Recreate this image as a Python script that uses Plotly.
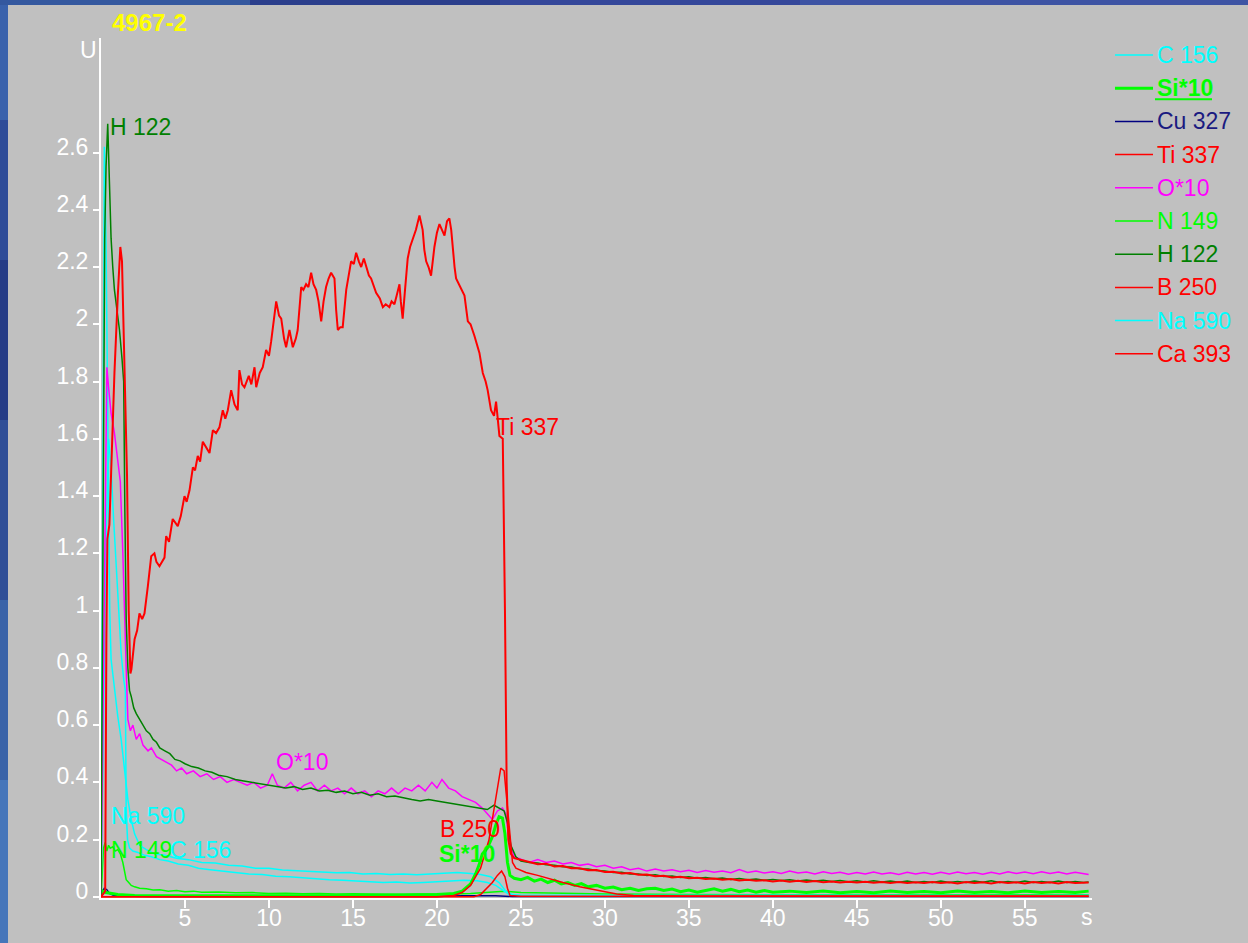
import plotly.graph_objects as go

# ------------------------------------------------------------------ data
TITLE = "4967-2"
Y_UNIT = "U"
X_UNIT = "s"
X_TICKS = [5, 10, 15, 20, 25, 30, 35, 40, 45, 50, 55]
Y_TICKS = [0, 0.2, 0.4, 0.6, 0.8, 1.0, 1.2, 1.4, 1.6, 1.8, 2.0, 2.2, 2.4, 2.6]
Y_TICK_TEXT = ["0", "0.2", "0.4", "0.6", "0.8", "1", "1.2", "1.4", "1.6", "1.8",
               "2", "2.2", "2.4", "2.6"]
LEGEND_ORDER = ["C 156", "Si*10", "Cu 327", "Ti 337", "O*10", "N 149",
                "H 122", "B 250", "Na 590", "Ca 393"]

C_156 = [(0, 0), (0.15, 0.6), (0.3, 1.25), (0.45, 1.6), (0.6, 1.5), (0.75, 1.32),
         (0.9, 1.15), (1.05, 1.0), (1.2, 0.85), (1.35, 0.76), (1.45, 0.72), (1.5, 0.3),
         (1.58, 0.2), (1.7, 0.17), (1.9, 0.16), (2.2, 0.155), (2.6, 0.145), (3.0, 0.14),
         (3.5, 0.13), (4.0, 0.125), (4.6, 0.115), (5.2, 0.11), (5.8, 0.1), (6.5, 0.095),
         (7.2, 0.09), (8.0, 0.085), (8.8, 0.08), (9.6, 0.078), (10.4, 0.072), (11.2, 0.07),
         (12.0, 0.066), (12.8, 0.064), (13.6, 0.06), (14.4, 0.058), (15.2, 0.055),
         (16.0, 0.054), (16.8, 0.05), (17.6, 0.052), (18.4, 0.048), (19.2, 0.05),
         (20.0, 0.052), (20.8, 0.055), (21.6, 0.058), (22.4, 0.056), (23.0, 0.05),
         (23.5, 0.04), (23.9, 0.025), (24.3, 0.008), (24.8, 0.005), (26, 0.005),
         (30, 0.004), (35, 0.005), (40, 0.004), (45, 0.005), (50, 0.004), (55, 0.005),
         (58.8, 0.004)]

NA_590 = [(0, 0), (0.1, 1.25), (0.2, 2.62), (0.3, 2.28), (0.38, 1.8), (0.45, 1.3),
          (0.52, 1.0), (0.6, 0.83), (0.8, 0.72), (1.0, 0.63), (1.2, 0.55), (1.4, 0.45),
          (1.6, 0.34), (1.8, 0.27), (2.0, 0.22), (2.3, 0.18), (2.7, 0.165), (3.2, 0.15),
          (3.8, 0.145), (4.5, 0.135), (5.2, 0.13), (6.0, 0.12), (6.8, 0.118), (7.6, 0.11),
          (8.4, 0.108), (9.2, 0.1), (10.0, 0.1), (10.8, 0.094), (11.6, 0.092),
          (12.4, 0.088), (13.2, 0.088), (14.0, 0.084), (14.8, 0.085), (15.6, 0.08),
          (16.4, 0.082), (17.2, 0.078), (18.0, 0.08), (18.8, 0.077), (19.6, 0.08),
          (20.4, 0.082), (21.2, 0.085), (22.0, 0.082), (22.6, 0.078), (23.2, 0.07),
          (23.7, 0.05), (24.1, 0.02), (24.5, 0.008), (25, 0.006), (28, 0.005),
          (32, 0.006), (36, 0.005), (40, 0.006), (45, 0.005), (50, 0.006), (55, 0.005),
          (58.8, 0.006)]

SI_10 = [(0, 0), (0.1, 0.02), (0.3, 0.015), (1.0, 0.008), (2, 0.005), (5, 0.004),
         (10, 0.004), (15, 0.004), (19, 0.006), (20, 0.008), (20.5, 0.01), (21, 0.012),
         (21.5, 0.02), (22, 0.045), (22.3, 0.08), (22.5, 0.11), (22.7, 0.15), (23.0, 0.17),
         (23.3, 0.21), (23.5, 0.25), (23.7, 0.28), (23.9, 0.275), (24.05, 0.22),
         (24.2, 0.12), (24.35, 0.075), (24.6, 0.065), (25, 0.06), (25.4, 0.068),
         (25.8, 0.055), (26.2, 0.062), (26.6, 0.05), (27, 0.058), (27.4, 0.045),
         (27.8, 0.05), (28.2, 0.04), (28.6, 0.046), (29, 0.035), (29.5, 0.04), (30, 0.03),
         (30.5, 0.034), (31, 0.025), (31.5, 0.03), (32, 0.022), (32.5, 0.028), (33, 0.03),
         (33.5, 0.022), (34, 0.027), (34.5, 0.018), (35, 0.024), (35.5, 0.016),
         (36, 0.022), (36.5, 0.028), (37, 0.02), (37.5, 0.026), (38, 0.018),
         (38.5, 0.024), (39, 0.016), (39.5, 0.022), (40, 0.016), (41, 0.02), (42, 0.015),
         (43, 0.02), (44, 0.014), (45, 0.019), (46, 0.014), (47, 0.02), (48, 0.015),
         (49, 0.019), (50, 0.014), (51, 0.02), (52, 0.015), (53, 0.019), (54, 0.014),
         (55, 0.02), (56, 0.015), (57, 0.019), (58, 0.015), (58.8, 0.02)]

CU_327 = [(0, 0), (0.1, 0.02), (0.2, 0.03), (0.35, 0.025), (0.5, 0.012), (0.7, 0.006),
          (1.0, 0.003), (1.5, 0.002), (3, 0.001), (10, 0.001), (20, 0.001), (21.5, 0.004),
          (22.5, 0.005), (23.5, 0.004), (24.5, 0.001), (30, 0.001), (58.8, 0.001)]

TI_337 = [(0, 0), (0.25, 0.02), (0.32, 0.9), (0.38, 1.25), (0.5, 1.3), (0.7, 1.7),
          (0.8, 1.83), (1.0, 2.1), (1.15, 2.27), (1.25, 2.22), (1.4, 1.85), (1.5, 1.6),
          (1.55, 1.47), (1.65, 1.0), (1.75, 0.78), (1.81, 0.795), (2.0, 0.90), (2.15, 0.93),
          (2.29, 0.99), (2.45, 0.97), (2.59, 0.99), (2.79, 1.085), (2.99, 1.19), (3.18, 1.20),
          (3.3, 1.17), (3.48, 1.155), (3.78, 1.185), (3.88, 1.26), (4.05, 1.24), (4.27, 1.32),
          (4.57, 1.295), (4.75, 1.33), (4.97, 1.40), (5.1, 1.38), (5.27, 1.42), (5.47, 1.50),
          (5.6, 1.49), (5.76, 1.54), (5.9, 1.52), (6.06, 1.59), (6.25, 1.57), (6.46, 1.55),
          (6.66, 1.63), (6.85, 1.62), (7.05, 1.64), (7.25, 1.70), (7.4, 1.67), (7.55, 1.70),
          (7.75, 1.77), (7.95, 1.72), (8.14, 1.70), (8.24, 1.84), (8.4, 1.79), (8.54, 1.78),
          (8.8, 1.82), (8.95, 1.79), (9.14, 1.85), (9.24, 1.78), (9.45, 1.83), (9.63, 1.85),
          (9.83, 1.91), (10.0, 1.89), (10.13, 1.94), (10.3, 2.02), (10.43, 2.08),
          (10.6, 2.03), (10.73, 2.02), (10.9, 1.95), (11.02, 1.92), (11.22, 1.98),
          (11.42, 1.92), (11.6, 1.95), (11.71, 1.98), (11.92, 2.13), (12.05, 2.12),
          (12.21, 2.14), (12.35, 2.13), (12.51, 2.18), (12.65, 2.14), (12.81, 2.12),
          (12.95, 2.08), (13.11, 2.01), (13.25, 2.08), (13.40, 2.13), (13.55, 2.16),
          (13.70, 2.18), (13.90, 2.16), (14.0, 2.05), (14.10, 1.98), (14.25, 1.99),
          (14.39, 1.99), (14.6, 2.12), (14.75, 2.18), (14.89, 2.22), (15.05, 2.21),
          (15.19, 2.25), (15.35, 2.22), (15.49, 2.20), (15.65, 2.23), (15.79, 2.20),
          (15.95, 2.17), (16.08, 2.16), (16.25, 2.13), (16.38, 2.11), (16.6, 2.09),
          (16.78, 2.06), (16.95, 2.07), (17.17, 2.06), (17.3, 2.08), (17.47, 2.07),
          (17.6, 2.1), (17.77, 2.14), (17.85, 2.08), (17.96, 2.02), (18.1, 2.12),
          (18.26, 2.23), (18.4, 2.27), (18.56, 2.30), (18.75, 2.33), (18.96, 2.38),
          (19.05, 2.36), (19.15, 2.33), (19.25, 2.26), (19.36, 2.22), (19.5, 2.20),
          (19.65, 2.17), (19.75, 2.22), (19.85, 2.27), (20.0, 2.32), (20.15, 2.35),
          (20.3, 2.33), (20.45, 2.31), (20.6, 2.36), (20.74, 2.37), (20.85, 2.33),
          (20.94, 2.26), (21.05, 2.2), (21.14, 2.16), (21.3, 2.14), (21.44, 2.12),
          (21.64, 2.10), (21.84, 2.01), (22.0, 2.0), (22.23, 1.96), (22.4, 1.93),
          (22.53, 1.90), (22.73, 1.83), (22.9, 1.8), (23.02, 1.77), (23.22, 1.70),
          (23.4, 1.68), (23.52, 1.73), (23.72, 1.61), (23.92, 1.60), (24.05, 1.0),
          (24.15, 0.4), (24.25, 0.2), (24.4, 0.15), (24.6, 0.135), (25.0, 0.128),
          (25.5, 0.122), (26, 0.114), (26.5, 0.116), (27, 0.106), (27.5, 0.108), (28, 0.1),
          (28.5, 0.1), (29, 0.093), (29.5, 0.094), (30, 0.087), (30.5, 0.088), (31, 0.082),
          (31.5, 0.083), (32, 0.077), (32.5, 0.078), (33, 0.072), (33.5, 0.074),
          (34, 0.068), (34.5, 0.07), (35, 0.065), (35.5, 0.067), (36, 0.062),
          (36.5, 0.064), (37, 0.06), (37.5, 0.062), (38, 0.057), (38.5, 0.06), (39, 0.056),
          (39.5, 0.058), (40, 0.054), (40.5, 0.057), (41, 0.053), (41.5, 0.056),
          (42, 0.052), (42.5, 0.055), (43, 0.051), (43.5, 0.054), (44, 0.05), (44.5, 0.053),
          (45, 0.05), (45.5, 0.053), (46, 0.049), (46.5, 0.052), (47, 0.048), (47.5, 0.052),
          (48, 0.048), (48.5, 0.051), (49, 0.048), (49.5, 0.052), (50, 0.048),
          (50.5, 0.051), (51, 0.047), (51.5, 0.052), (52, 0.048), (52.5, 0.051),
          (53, 0.047), (53.5, 0.052), (54, 0.048), (54.5, 0.051), (55, 0.047),
          (55.5, 0.052), (56, 0.048), (56.5, 0.051), (57, 0.047), (57.5, 0.052),
          (58, 0.048), (58.5, 0.05), (58.8, 0.05)]

O_10 = [(0, 0), (0.1, 0.6), (0.25, 1.5), (0.35, 1.85), (0.45, 1.78), (0.6, 1.69),
        (0.8, 1.62), (1.0, 1.52), (1.15, 1.45), (1.3, 1.2), (1.4, 0.97), (1.5, 0.8),
        (1.6, 0.62), (1.75, 0.58), (1.9, 0.6), (2.1, 0.55), (2.3, 0.57), (2.5, 0.53),
        (2.8, 0.51), (3.0, 0.52), (3.3, 0.49), (3.6, 0.48), (3.9, 0.47), (4.2, 0.46),
        (4.5, 0.44), (4.8, 0.45), (5.1, 0.43), (5.5, 0.44), (5.9, 0.42), (6.3, 0.43),
        (6.7, 0.41), (7.1, 0.42), (7.5, 0.40), (7.9, 0.41), (8.3, 0.40), (8.7, 0.39),
        (9.1, 0.40), (9.5, 0.38), (9.9, 0.39), (10.2, 0.43), (10.5, 0.39), (10.9, 0.38),
        (11.3, 0.40), (11.7, 0.37), (12.1, 0.39), (12.5, 0.40), (12.9, 0.37), (13.3, 0.39),
        (13.7, 0.37), (14.1, 0.38), (14.5, 0.36), (14.9, 0.38), (15.3, 0.36), (15.7, 0.37),
        (16.1, 0.35), (16.5, 0.37), (16.9, 0.36), (17.3, 0.38), (17.7, 0.36), (18.1, 0.38),
        (18.5, 0.37), (18.9, 0.39), (19.3, 0.37), (19.7, 0.40), (20.0, 0.38), (20.3, 0.41),
        (20.7, 0.38), (21.1, 0.37), (21.5, 0.35), (21.9, 0.34), (22.3, 0.33), (22.7, 0.31),
        (23.0, 0.29), (23.3, 0.27), (23.6, 0.30), (23.9, 0.31), (24.1, 0.29), (24.3, 0.20),
        (24.6, 0.14), (25.0, 0.13), (25.5, 0.12), (26, 0.13), (26.5, 0.12), (27, 0.125),
        (27.5, 0.115), (28, 0.12), (28.5, 0.11), (29, 0.115), (29.5, 0.105), (30, 0.11),
        (30.5, 0.10), (31, 0.105), (31.5, 0.095), (32, 0.10), (32.5, 0.09), (33, 0.097),
        (33.5, 0.09), (34, 0.095), (34.5, 0.088), (35, 0.093), (35.5, 0.085), (36, 0.092),
        (36.5, 0.086), (37, 0.09), (37.5, 0.084), (38, 0.095), (38.5, 0.085), (39, 0.09),
        (39.5, 0.083), (40, 0.088), (40.5, 0.082), (41, 0.09), (41.5, 0.083), (42, 0.087),
        (42.5, 0.08), (43, 0.088), (43.5, 0.082), (44, 0.086), (44.5, 0.079), (45, 0.085),
        (45.5, 0.08), (46, 0.087), (46.5, 0.08), (47, 0.084), (47.5, 0.078), (48, 0.086),
        (48.5, 0.08), (49, 0.085), (49.5, 0.079), (50, 0.086), (50.5, 0.08), (51, 0.087),
        (51.5, 0.081), (52, 0.085), (52.5, 0.079), (53, 0.086), (53.5, 0.08), (54, 0.088),
        (54.5, 0.082), (55, 0.087), (55.5, 0.081), (56, 0.088), (56.5, 0.082), (57, 0.087),
        (57.5, 0.08), (58, 0.086), (58.5, 0.08), (58.8, 0.078)]

N_149 = [(0, 0), (0.08, 0.1), (0.15, 0.17), (0.25, 0.19), (0.35, 0.16), (0.45, 0.18),
         (0.55, 0.17), (0.7, 0.175), (0.85, 0.16), (1.0, 0.165), (1.15, 0.15), (1.3, 0.12),
         (1.4, 0.09), (1.5, 0.06), (1.65, 0.05), (1.8, 0.04), (2.0, 0.035), (2.3, 0.03),
         (2.7, 0.028), (3.1, 0.024), (3.5, 0.025), (4.0, 0.02), (4.5, 0.022), (5.0, 0.018),
         (5.5, 0.02), (6.0, 0.016), (7, 0.017), (8, 0.014), (9, 0.015), (10, 0.012),
         (11, 0.013), (12, 0.011), (13, 0.012), (14, 0.01), (15, 0.011), (16, 0.01),
         (17, 0.011), (18, 0.009), (19, 0.01), (20, 0.009), (21, 0.01), (22, 0.012),
         (23, 0.015), (24, 0.02), (25, 0.015), (27, 0.012), (30, 0.01), (35, 0.008),
         (40, 0.007), (45, 0.007), (50, 0.007), (55, 0.007), (58.8, 0.007)]

H_122 = [(0, 0), (0.08, 0.9), (0.15, 1.8), (0.22, 2.3), (0.3, 2.55), (0.4, 2.70),
         (0.5, 2.5), (0.6, 2.3), (0.7, 2.2), (0.8, 2.12), (0.95, 2.05), (1.1, 1.98),
         (1.25, 1.88), (1.35, 1.8), (1.42, 1.35), (1.5, 0.97), (1.6, 0.8), (1.7, 0.72),
         (1.8, 0.7), (1.95, 0.66), (2.1, 0.64), (2.3, 0.62), (2.5, 0.6), (2.7, 0.58),
         (2.9, 0.57), (3.1, 0.55), (3.3, 0.54), (3.5, 0.52), (3.8, 0.51), (4.1, 0.5),
         (4.4, 0.48), (4.7, 0.475), (5.0, 0.465), (5.4, 0.455), (5.8, 0.45), (6.2, 0.44),
         (6.6, 0.435), (7.0, 0.425), (7.5, 0.42), (8.0, 0.41), (8.5, 0.405), (9.0, 0.40),
         (9.5, 0.395), (10.0, 0.39), (10.5, 0.385), (11.0, 0.38), (11.5, 0.385),
         (12.0, 0.375), (12.5, 0.38), (13.0, 0.37), (13.5, 0.372), (14.0, 0.365),
         (14.5, 0.37), (15.0, 0.36), (15.5, 0.365), (16.0, 0.355), (16.5, 0.36),
         (17.0, 0.35), (17.5, 0.352), (18.0, 0.345), (18.5, 0.34), (19.0, 0.335),
         (19.5, 0.34), (20.0, 0.335), (20.5, 0.33), (21.0, 0.325), (21.5, 0.32),
         (22.0, 0.315), (22.5, 0.31), (23.0, 0.305), (23.4, 0.32), (23.7, 0.31),
         (24.0, 0.3), (24.2, 0.26), (24.4, 0.18), (24.7, 0.14), (25.0, 0.125),
         (25.5, 0.12), (26, 0.118), (26.5, 0.112), (27, 0.11), (27.5, 0.105), (28, 0.104),
         (28.5, 0.098), (29, 0.097), (29.5, 0.092), (30, 0.09), (30.5, 0.085), (31, 0.086),
         (31.5, 0.08), (32, 0.08), (32.5, 0.075), (33, 0.077), (33.5, 0.071), (34, 0.073),
         (34.5, 0.068), (35, 0.07), (35.5, 0.065), (36, 0.068), (36.5, 0.063), (37, 0.066),
         (37.5, 0.061), (38, 0.064), (38.5, 0.06), (39, 0.062), (39.5, 0.058), (40, 0.061),
         (40.5, 0.057), (41, 0.06), (41.5, 0.055), (42, 0.059), (42.5, 0.055), (43, 0.058),
         (43.5, 0.054), (44, 0.057), (44.5, 0.053), (45, 0.056), (45.5, 0.052), (46, 0.056),
         (46.5, 0.052), (47, 0.055), (47.5, 0.051), (48, 0.055), (48.5, 0.05), (49, 0.054),
         (49.5, 0.05), (50, 0.055), (50.5, 0.05), (51, 0.054), (51.5, 0.05), (52, 0.055),
         (52.5, 0.051), (53, 0.056), (53.5, 0.05), (54, 0.054), (54.5, 0.05), (55, 0.055),
         (55.5, 0.05), (56, 0.054), (56.5, 0.05), (57, 0.055), (57.5, 0.05), (58, 0.054),
         (58.5, 0.05), (58.8, 0.052)]

B_250 = [(0, 0), (20, 0), (21, 0.005), (21.5, 0.015), (22, 0.04), (22.6, 0.1),
         (23.1, 0.2), (23.5, 0.35), (23.8, 0.45), (24.0, 0.44), (24.2, 0.3), (24.35, 0.2),
         (24.5, 0.12), (24.7, 0.1), (25.3, 0.085), (26, 0.075), (26.7, 0.063),
         (27.5, 0.05), (28.5, 0.035), (29.7, 0.02), (30.7, 0.01), (31.7, 0.005),
         (35, 0.003), (40, 0.003), (45, 0.003), (50, 0.003), (55, 0.003), (58.8, 0.003)]

CA_393 = [(0, 0), (22.2, 0), (22.6, 0.008), (23.0, 0.03), (23.3, 0.05), (23.6, 0.075),
          (23.85, 0.09), (24.05, 0.07), (24.2, 0.03), (24.35, 0.005), (25, 0.002),
          (58.8, 0.002)]

# ------------------------------------------------------------------ styling
BG = "#C0C0C0"
FONT = "Liberation Sans, Arial, sans-serif"
W, H = 1248, 943
ML, MR, MT, MB = 101, 156, 38, 45
PW, PH = W - ML - MR, H - MT - MB

SERIES = {
    "C 156": (C_156, "#00FFFF", 1.5),
    "Si*10": (SI_10, "#00FF00", 3),
    "Cu 327": (CU_327, "#000080", 1.5),
    "Ti 337": (TI_337, "#FF0000", 2),
    "O*10": (O_10, "#FF00FF", 1.5),
    "N 149": (N_149, "#00FF00", 1.5),
    "H 122": (H_122, "#008000", 1.5),
    "B 250": (B_250, "#FF0000", 1.5),
    "Na 590": (NA_590, "#00FFFF", 1.5),
    "Ca 393": (CA_393, "#FF0000", 1.5),
}
DRAW_ORDER = ["Cu 327", "N 149", "C 156", "Na 590", "Si*10", "O*10", "H 122",
              "Ca 393", "B 250", "Ti 337"]
TEXT_COLORS = {"Cu 327": "#1A1A80"}


def px(xp):
    return (xp - ML) / PW


def py(yp):
    return (H - MB - yp) / PH


fig = go.Figure()
for name in DRAW_ORDER:
    pts, col, lw = SERIES[name]
    xs, ys = zip(*pts)
    fig.add_trace(go.Scatter(x=list(xs), y=list(ys), mode="lines", name=name,
                             line=dict(color=col, width=lw), showlegend=False,
                             hoverinfo="skip"))

shapes = []
# blue window-frame strips
left_cols = [(0, 120, "#3A62AC"), (120, 260, "#2E4C98"), (260, 420, "#263C86"),
             (420, 600, "#2F4E97"), (600, 780, "#3A63A8"), (780, 943, "#4676BA")]
for y0, y1, c in left_cols:
    shapes.append(dict(type="rect", xref="paper", yref="paper", x0=px(0), x1=px(8),
                       y0=py(y1), y1=py(y0), fillcolor=c, line=dict(width=0),
                       layer="below"))
top_cols = [(0, 250, "#34589F"), (250, 500, "#2B3F8C"), (500, 800, "#34479A"),
            (800, 1248, "#3E54A4")]
for x0, x1, c in top_cols:
    shapes.append(dict(type="rect", xref="paper", yref="paper", x0=px(x0), x1=px(x1),
                       y0=py(5), y1=py(0), fillcolor=c, line=dict(width=0),
                       layer="below"))

annotations = []
# legend
for i, name in enumerate(LEGEND_ORDER):
    _, col, lw = SERIES[name]
    yy = 55 + 33.2 * i
    shapes.append(dict(type="line", xref="paper", yref="paper", x0=px(1115),
                       x1=px(1153), y0=py(yy), y1=py(yy),
                       line=dict(color=col, width=3 if name == "Si*10" else 1.5)))
    txt = "<b>%s</b>" % name if name == "Si*10" else name
    annotations.append(dict(xref="paper", yref="paper", x=px(1155), y=py(yy),
                            xanchor="left", yanchor="middle", text=txt,
                            showarrow=False,
                            font=dict(family=FONT, size=23,
                                      color=TEXT_COLORS.get(name, col))))
    if name == "Si*10":
        shapes.append(dict(type="line", xref="paper", yref="paper", x0=px(1155),
                           x1=px(1212), y0=py(yy + 11), y1=py(yy + 11),
                           line=dict(color=col, width=2)))

# in-plot curve labels
for text, xv, yv, col, bold in [("H 122", 0.42, 2.69, "#008000", False),
                                ("Ti 337", 23.4, 1.64, "#FF0000", False),
                                ("O*10", 10.3, 0.47, "#FF00FF", False),
                                ("Na 590", 0.5, 0.283, "#00FFFF", False),
                                ("N 149", 0.5, 0.164, "#00FF00", False),
                                ("C 156", 4.0, 0.164, "#00FFFF", False),
                                ("B 250", 20.05, 0.238, "#FF0000", False),
                                ("Si*10", 20.0, 0.15, "#00FF00", True)]:
    annotations.append(dict(x=xv, y=yv, xref="x", yref="y", xanchor="left",
                            yanchor="middle", showarrow=False,
                            text="<b>%s</b>" % text if bold else text,
                            font=dict(family=FONT, size=23, color=col)))

annotations.append(dict(xref="paper", yref="paper", x=px(110), y=py(22),
                        xanchor="left", yanchor="middle", showarrow=False,
                        text="<b>%s</b>" % TITLE,
                        font=dict(family=FONT, size=24, color="#FFFF00")))
annotations.append(dict(xref="paper", yref="paper", x=px(88), y=py(50),
                        xanchor="center", yanchor="middle", showarrow=False,
                        text=Y_UNIT, font=dict(family=FONT, size=23, color="white")))
annotations.append(dict(xref="paper", yref="paper", x=px(1087), y=py(917),
                        xanchor="center", yanchor="middle", showarrow=False,
                        text=X_UNIT, font=dict(family=FONT, size=23, color="white")))

fig.update_layout(
    width=W, height=H, autosize=False,
    margin=dict(l=ML, r=MR, t=MT, b=MB, pad=0, autoexpand=False),
    paper_bgcolor=BG, plot_bgcolor=BG,
    showlegend=False,
    shapes=shapes, annotations=annotations,
    xaxis=dict(range=[0, 59], showgrid=False, zeroline=False, showline=True,
               automargin=False,
               linecolor="white", linewidth=2, ticks="outside", ticklen=8,
               tickwidth=2, tickcolor="white", tickvals=X_TICKS,
               ticklabelstandoff=-10,
               tickfont=dict(family=FONT, size=23, color="white")),
    yaxis=dict(range=[-0.004, 3.0], showgrid=False, zeroline=False, showline=True,
               automargin=False,
               linecolor="white", linewidth=2, ticks="outside", ticklen=6,
               tickwidth=2, tickcolor="white", tickvals=Y_TICKS, ticktext=Y_TICK_TEXT,
               ticklabelshift=-6,
               tickfont=dict(family=FONT, size=23, color="white")),
)

fig.write_html("out.html")
